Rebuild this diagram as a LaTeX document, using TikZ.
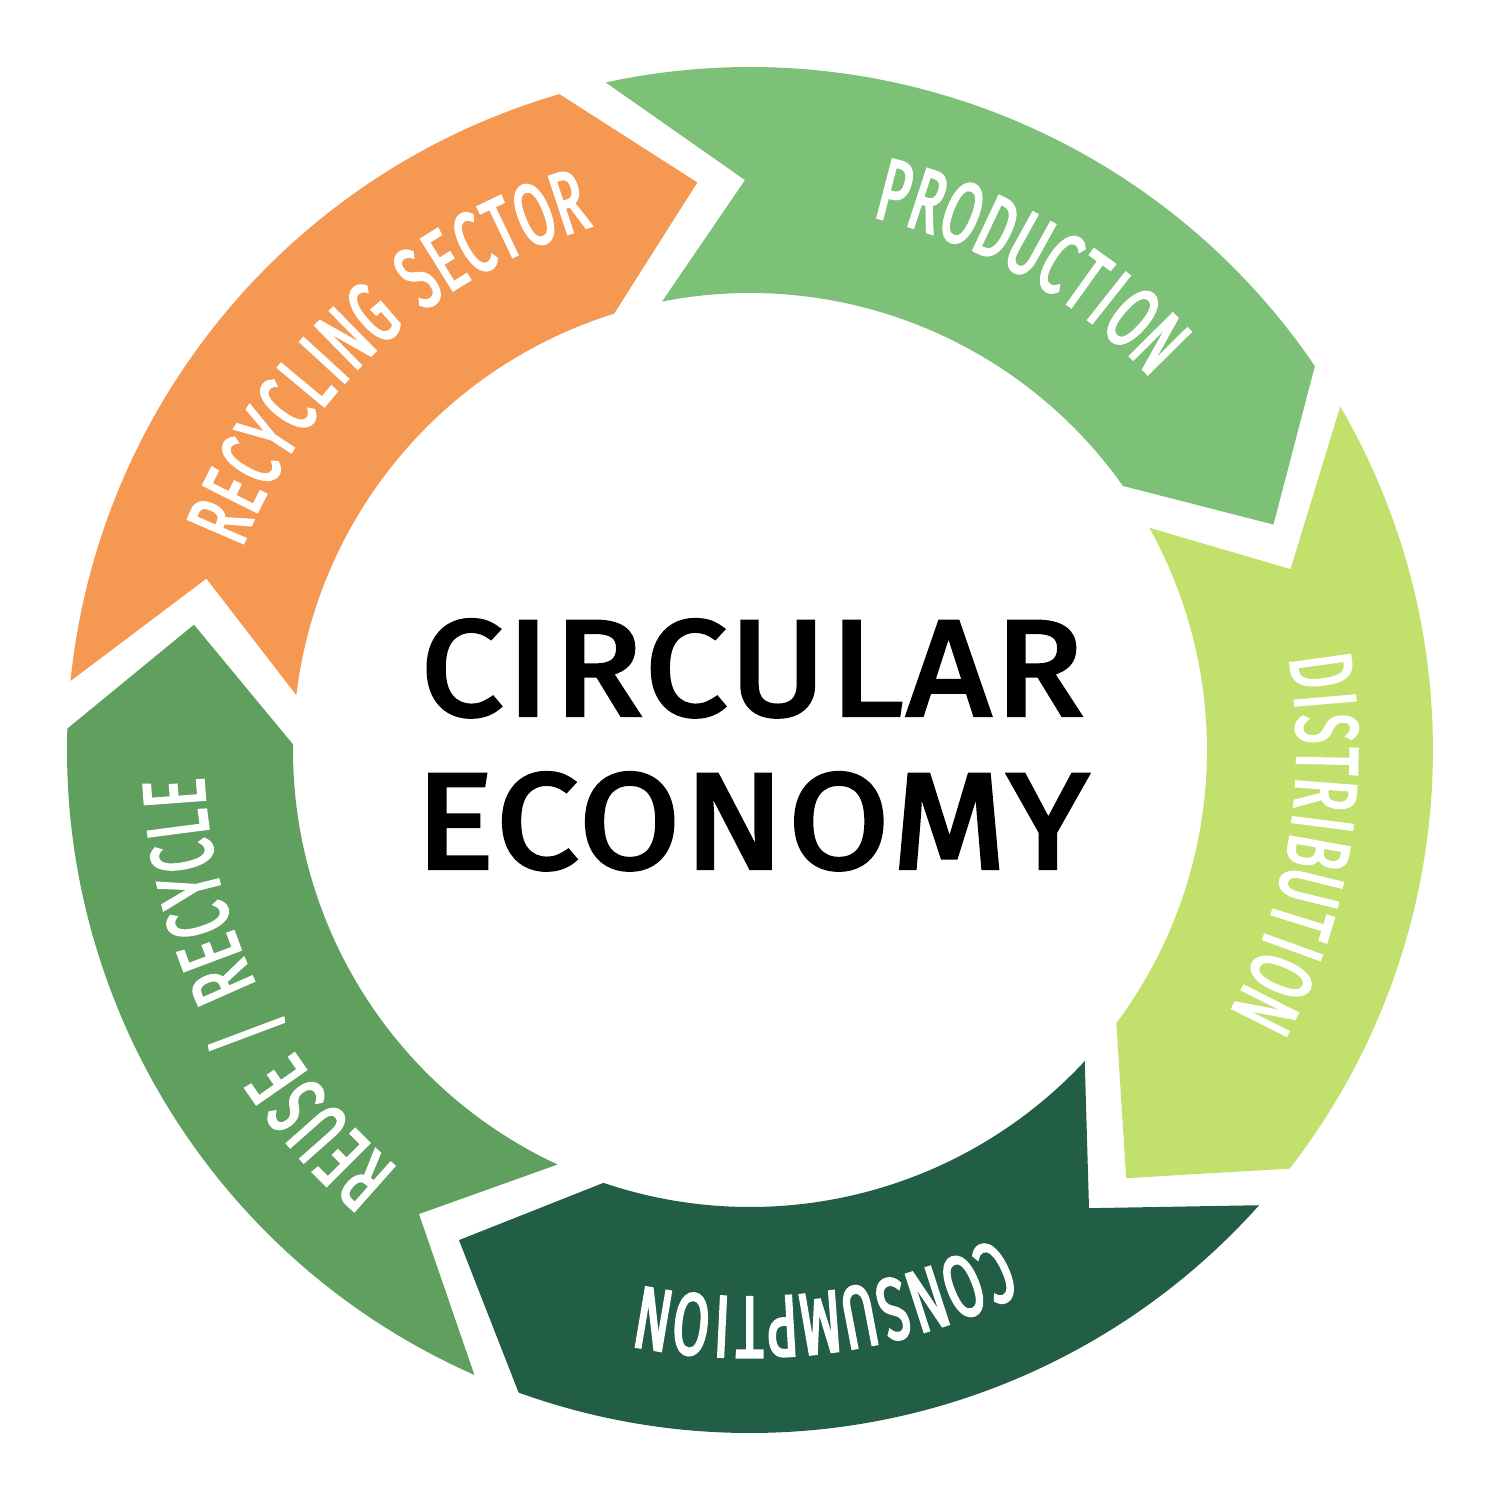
\documentclass[tikz,border=0pt]{standalone}
\usepackage{fontspec}
\setmainfont{Fira Sans}
\newfontfamily\ringfont[FakeStretch=0.6,FakeBold=2.5]{Fira Sans}
\newfontfamily\titlefont[FakeStretch=1.08,FakeBold=3.3,LetterSpace=3]{Fira Sans}
\usepackage{tikz}
\usetikzlibrary{
	calc,
	decorations.text
}
\usepackage{xcolor}
\definecolor{prodgreen}{HTML}{7CC177}
\definecolor{distgreen}{HTML}{C1E16C}
\definecolor{consgreen}{HTML}{225D45}
\definecolor{reusegreen}{HTML}{5FA05E}
\definecolor{recycorange}{HTML}{F59851}

\begin{document}
\begin{tikzpicture}[
		segment/.style={
			fill=#1
		},
		ringlabel/.style={
			decorate,
			decoration={
				text effects along path,
				text={#1},
				text align=center,
				text effects/.cd,
				text along path,
				characters={text=white, font=\ringfont\fontsize{25}{25}\selectfont},
				character widths={inner xsep=1.7pt}
			}
		},
		title/.style={
			font=\titlefont\fontsize{38.5}{44}\selectfont,
			inner sep=0pt,
			anchor=base
		}
		]
		
		\useasboundingbox (-7.5,-7.5) rectangle (7.5,7.5);
		
		% Radii and notch depth
		\def\rout{6.83}
		\def\rin{4.57}
		\def\rmid{5.70}
		\def\dep{11.3}
		
		% Arrow segments, clockwise
		\foreach \col [count=\i from 0] in {prodgreen,distgreen,consgreen,reusegreen,recycorange}{
			\pgfmathsetmacro\ta{104.2-72*\i}
			\pgfmathsetmacro\tb{\ta-72}
			\fill[segment=\col]
				({\ta-2}:\rout) arc[start angle=\ta-2, end angle=\tb+2, radius=\rout]
				-- ({\tb-\dep+2.4}:\rmid)
				-- ({\tb+3.1}:\rin) arc[start angle=\tb+3.1, end angle=\ta-3.1, radius=\rin]
				-- ({\ta-\dep-2.4}:\rmid)
				-- cycle;
		}
		
		% Labels along the ring
		\path[ringlabel=PRODUCTION] (100:5.47) arc[start angle=100, end angle=20, radius=5.47];
		\path[ringlabel=DISTRIBUTION] (30.5:5.47) arc[start angle=30.5, end angle=-49.5, radius=5.47];
		\path[ringlabel=CONSUMPTION] (-42.3:5.47) arc[start angle=-42.3, end angle=-122.3, radius=5.47];
		\path[ringlabel={REUSE / RECYCLE}] (-113.6:5.47) arc[start angle=-113.6, end angle=-193.6, radius=5.47];
		\path[ringlabel={RECYCLING SECTOR}] (172.5:5.47) arc[start angle=172.5, end angle=92.5, radius=5.47];
		
		% Centre
		\node[title] (circ) at (0.02,0.35) {CIRCULAR};
		\node[title] (econ) at ([yshift=-1.53cm]circ.base) {ECONOMY};
		
	\end{tikzpicture}
\end{document}
